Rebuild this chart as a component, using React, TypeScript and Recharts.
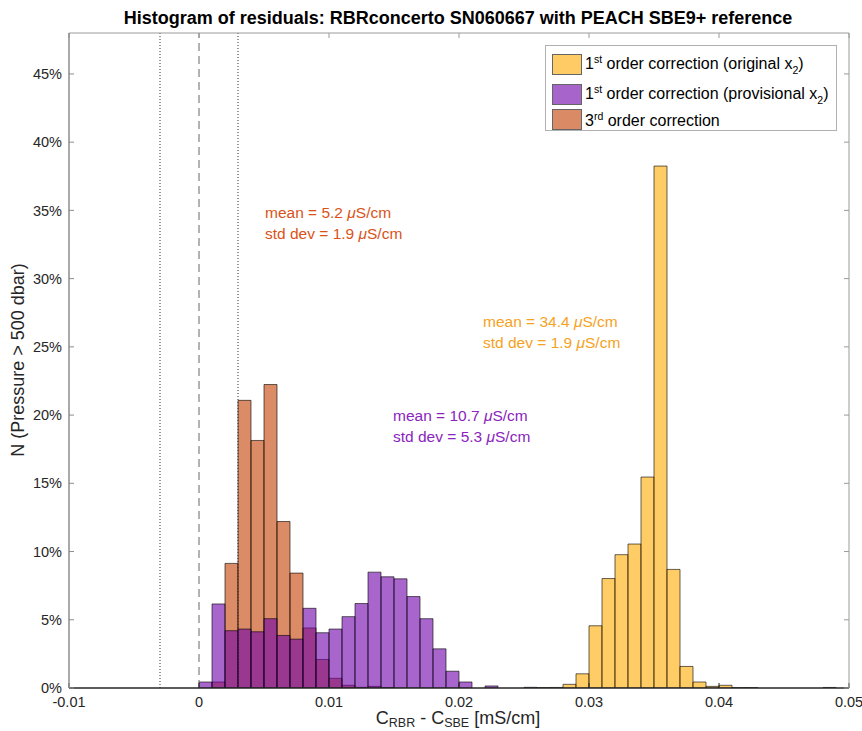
import React from 'react';
import { ComposedChart, Bar, XAxis, YAxis, ReferenceLine } from 'recharts';

// histogram bins: 0.001 mS/cm wide, first bin starts at 0
const binStart = 0;
const binWidth = 0.001;

// percent of samples per bin
const originalX2 = [
  0, 0, 0, 0, 0, 0, 0, 0, 0, 0,
  0, 0, 0, 0, 0, 0, 0, 0, 0, 0,
  0, 0, 0, 0, 0, 0, 0.03, 0.04, 0.27, 1.04,
  4.56, 8.02, 9.77, 10.55, 15.46, 38.25, 8.69, 1.58, 0.44, 0.12,
  0.2, 0.03, 0.03, 0, 0, 0, 0, 0, 0.04, 0,
];
const provisionalX2 = [
  0.44, 6.16, 4.2, 4.32, 4.12, 5.08, 3.85, 3.58, 5.84, 4.05,
  4.32, 5.23, 6.19, 8.49, 8.15, 8.0, 6.7, 5.08, 2.87, 1.23,
  0.44, 0, 0.15, 0, 0, 0.05, 0, 0, 0, 0,
  0, 0, 0, 0, 0, 0, 0, 0, 0, 0,
  0, 0, 0, 0, 0, 0, 0, 0, 0, 0,
];
const thirdOrder = [
  0, 0.44, 9.13, 21.08, 18.14, 22.24, 12.2, 8.42, 4.4, 2.09,
  0.71, 0.2, 0.05, 0.12, 0.03, 0, 0, 0, 0, 0,
  0, 0, 0, 0, 0, 0, 0, 0, 0, 0,
  0, 0, 0, 0, 0, 0, 0, 0, 0, 0,
  0, 0, 0, 0, 0, 0, 0, 0, 0, 0,
];

const xTicks = [-0.01, 0, 0.01, 0.02, 0.03, 0.04, 0.05];
const yTicks = [0, 5, 10, 15, 20, 25, 30, 35, 40, 45];
const zeroLine = [0];
const limitLines = [-0.003, 0.003];

const data = originalX2.map((v, i) => ({
  x: +(binStart + (i + 0.5) * binWidth).toFixed(4),
  original: v,
  provisional: provisionalX2[i],
  third: thirdOrder[i],
}));

const FONT = '"Liberation Sans", Arial, Helvetica, sans-serif';
const INK = '#262626';
const EDGE = { stroke: '#000', strokeOpacity: 0.6, strokeWidth: 1 };

const C_ORIG = '#FFAA00';
const C_PROV = '#6E00AA';
const C_THIRD = '#C33F00';

const tickFont = { fontSize: 14.5, fill: INK, fontFamily: FONT };

function StatText({ left, top, color, mean, std }: { left: number; top: number; color: string; mean: string; std: string }) {
  return (
    <div style={{ position: 'absolute', left, top, color, fontSize: 15.5, lineHeight: '21px', fontFamily: FONT, whiteSpace: 'nowrap' }}>
      <div>mean = {mean} <i>μ</i>S/cm</div>
      <div>std dev = {std} <i>μ</i>S/cm</div>
    </div>
  );
}

const sup = { fontSize: 10.5 };
const legendItems = [
  { color: C_ORIG, top: 52, label: <>1<sup style={sup}>st</sup> order correction (original x<sub style={sup}>2</sub>)</> },
  { color: C_PROV, top: 82, label: <>1<sup style={sup}>st</sup> order correction (provisional x<sub style={sup}>2</sub>)</> },
  { color: C_THIRD, top: 107, label: <>3<sup style={sup}>rd</sup> order correction</> },
];

const xSub = { fontSize: 12.5, verticalAlign: '-3px', lineHeight: 1 };

export default function App() {
  return (
    <div style={{ position: 'absolute', left: 0, top: 0, width: 862, height: 731, background: '#fff', fontFamily: FONT, overflow: 'hidden' }}>
      <ComposedChart
        width={862}
        height={731}
        data={data}
        margin={{ top: 13, right: 3, bottom: 23, left: 49 }}
        barCategoryGap={0}
        barGap={0}
        style={{ overflow: 'visible' }}
      >
        <XAxis
          xAxisId="bottom"
          type="number"
          dataKey="x"
          domain={[-0.01, 0.05]}
          allowDataOverflow
          ticks={xTicks}
          interval={0}
          height={20}
          tickSize={-5}
          tickMargin={14}
          tick={tickFont}
          tickFormatter={(v) => String(v)}
          axisLine={{ stroke: INK, strokeWidth: 1.5 }}
          tickLine={{ stroke: INK }}
        />
        <XAxis
          xAxisId="top"
          orientation="top"
          type="number"
          dataKey="x"
          domain={[-0.01, 0.05]}
          allowDataOverflow
          ticks={xTicks}
          interval={0}
          height={20}
          tickSize={-5}
          tickFormatter={() => ''}
          axisLine={{ stroke: '#9a9a9a' }}
          tickLine={{ stroke: '#9a9a9a' }}
        />
        <XAxis xAxisId="hid" type="number" dataKey="x" domain={[-0.01, 0.05]} allowDataOverflow hide />
        <YAxis
          yAxisId="left"
          type="number"
          domain={[0, 48]}
          allowDataOverflow
          ticks={yTicks}
          interval={0}
          width={20}
          tickSize={-5}
          tickMargin={12}
          tick={tickFont}
          tickFormatter={(v) => `${v}%`}
          axisLine={{ stroke: '#8c8c8c', strokeWidth: 1.5 }}
          tickLine={{ stroke: '#8c8c8c' }}
        />
        <YAxis
          yAxisId="right"
          orientation="right"
          type="number"
          domain={[0, 48]}
          allowDataOverflow
          ticks={yTicks}
          interval={0}
          width={10}
          tickSize={-5}
          tickFormatter={() => ''}
          axisLine={{ stroke: '#9a9a9a' }}
          tickLine={{ stroke: '#9a9a9a' }}
        />
        <Bar xAxisId="top" yAxisId="left" dataKey="original" fill={C_ORIG} fillOpacity={0.6} {...EDGE} isAnimationActive={false} />
        <Bar xAxisId="bottom" yAxisId="left" dataKey="third" fill={C_THIRD} fillOpacity={0.6} {...EDGE} isAnimationActive={false} />
        <Bar xAxisId="hid" yAxisId="right" dataKey="provisional" fill={C_PROV} fillOpacity={0.6} {...EDGE} isAnimationActive={false} />
        {zeroLine.map((v) => (
          <ReferenceLine key={v} x={v} xAxisId="bottom" yAxisId="left" stroke="#666" strokeDasharray="8 5" strokeWidth={1} />
        ))}
        {limitLines.map((v) => (
          <ReferenceLine key={v} x={v} xAxisId="bottom" yAxisId="left" stroke="#333" strokeDasharray="1 2" strokeWidth={1} />
        ))}
      </ComposedChart>

      <div style={{ position: 'absolute', left: 0, width: 916, top: 8, textAlign: 'center', fontWeight: 'bold', fontSize: 18, color: '#000', whiteSpace: 'nowrap' }}>
        Histogram of residuals: RBRconcerto SN060667 with PEACH SBE9+ reference
      </div>

      <div style={{ position: 'absolute', left: 18, top: 360, transform: 'translate(-50%, -50%) rotate(-90deg)', fontSize: 18, color: INK, whiteSpace: 'nowrap' }}>
        N (Pressure &gt; 500 dbar)
      </div>

      <div style={{ position: 'absolute', left: 0, width: 916, top: 708, textAlign: 'center', fontSize: 18, lineHeight: '20px', color: INK, whiteSpace: 'nowrap' }}>
        C<span style={xSub}>RBR</span> - C<span style={xSub}>SBE</span> [mS/cm]
      </div>

      <StatText left={265} top={202} color="#D95319" mean="5.2" std="1.9" />
      <StatText left={483} top={311} color="#F5A21E" mean="34.4" std="1.9" />
      <StatText left={393} top={405} color="#8A24BE" mean="10.7" std="5.3" />

      <div style={{ position: 'absolute', left: 545, top: 45, width: 292, height: 86, border: '1px solid #b0b0b0', background: '#fff', boxSizing: 'border-box' }}>
        {legendItems.map((it, i) => (
          <div key={i} style={{ position: 'absolute', left: 6, top: it.top - 45, height: 22, display: 'flex', alignItems: 'center' }}>
            <div style={{ width: 30, height: 21, background: it.color, opacity: 0.6, boxSizing: 'border-box', border: '1px solid #000' }} />
            <div style={{ marginLeft: 3, fontSize: 16, color: '#000', whiteSpace: 'nowrap', lineHeight: '16px' }}>{it.label}</div>
          </div>
        ))}
      </div>
    </div>
  );
}
